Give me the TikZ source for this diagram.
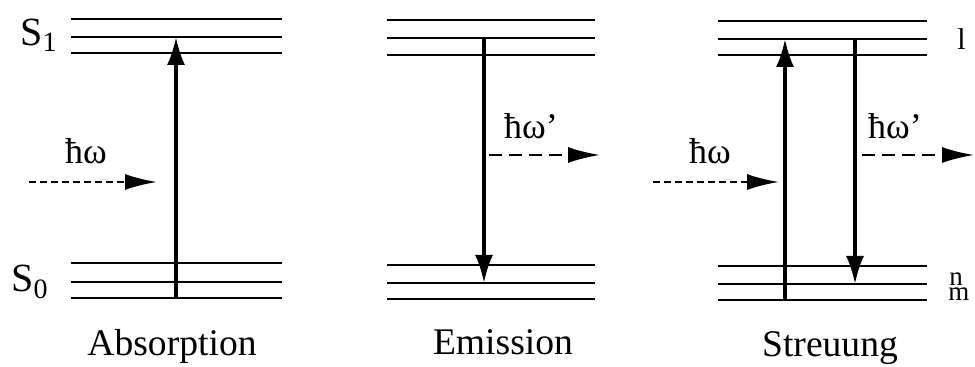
\documentclass[tikz,border=0pt]{standalone}
\usepackage{fontspec}
\setmainfont{Liberation Serif}
\usetikzlibrary{arrows.meta}

\begin{document}
\begin{tikzpicture}[x=0.5pt, y=-0.5pt,
  level/.style={line width=1.2pt},
  trans/.style={line width=1.6pt, -{Latex[length=14pt, width=9pt]}},
  photon/.style={line width=1.2pt, dash pattern=on 3.5pt off 2pt, -{Latex[length=16pt, width=8pt]}},
  photonb/.style={photon, dash pattern=on 6.5pt off 3.5pt},
  title/.style={font=\fontsize{18.8}{22}\selectfont, anchor=base},
  quant/.style={font=\fontsize{18}{21}\selectfont, anchor=base},
  state/.style={font=\fontsize{20}{23}\selectfont},
  idx/.style={font=\fontsize{13.5}{16}\selectfont, inner sep=0pt, anchor=base west}]
\useasboundingbox (0,0) rectangle (975,367);
% energy levels: left, right, three upper and three lower levels
\foreach \xl/\xr/\ya/\yb/\yc/\yd/\ye/\yf in {
  71/282/19/37/53/263/282/298,
  387/595/20/38/55/265/283/299,
  718/927/21/39/55/266/284/300
} {
  \foreach \y in {\ya,\yb,\yc,\yd,\ye,\yf}
    \draw[level] (\xl,\y) -- (\xr,\y);
}

% Absorption
\coordinate (abs-lo) at (176,298);
\coordinate (abs-hi) at (176,37);
\coordinate (abs-in) at (29,182);
\coordinate (abs-ph) at (157,182);
\draw[trans] (abs-lo) -- (abs-hi);
\draw[photon] (abs-in) -- (abs-ph);
\node[quant] (abs-hw) at (86,164) {ħω};
\node[state] (s1) at (39,35) {S\textsubscript{1}};
\node[state] (s0) at (30,282) {S\textsubscript{0}};
\node[title] (abs-t) at (172,356) {Absorption};

% Emission
\coordinate (emi-hi) at (484,38);
\coordinate (emi-lo) at (484,283);
\coordinate (emi-ph) at (489,155);
\coordinate (emi-out) at (600,155);
\draw[trans] (emi-hi) -- (emi-lo);
\draw[photonb] (emi-ph) -- (emi-out);
\node[quant] (emi-hw) at (531,139) {ħω’};
\node[title] (emi-t) at (503,355) {Emission};

% Streuung
\coordinate (str-lo) at (785,300);
\coordinate (str-hi) at (785,39);
\coordinate (str-top) at (855,39);
\coordinate (str-n) at (855,284);
\coordinate (str-in) at (653,182);
\coordinate (str-ph) at (779,182);
\coordinate (str-ph2) at (862,155);
\coordinate (str-out) at (974,155);
\draw[trans] (str-lo) -- (str-hi);
\draw[trans] (str-top) -- (str-n);
\draw[photon] (str-in) -- (str-ph);
\draw[photonb] (str-ph2) -- (str-out);
\node[quant] (str-hw) at (710,164) {ħω};
\node[quant] (str-hw2) at (895,139) {ħω’};
\node[idx, font=\fontsize{15}{17}\selectfont] (lev-l) at (957,50) {l};
\node[idx] (lev-n) at (949,286) {n};
\node[idx] (lev-m) at (948,301) {m};
\node[title] (str-t) at (830,357) {Streuung};
\end{tikzpicture}
\end{document}
